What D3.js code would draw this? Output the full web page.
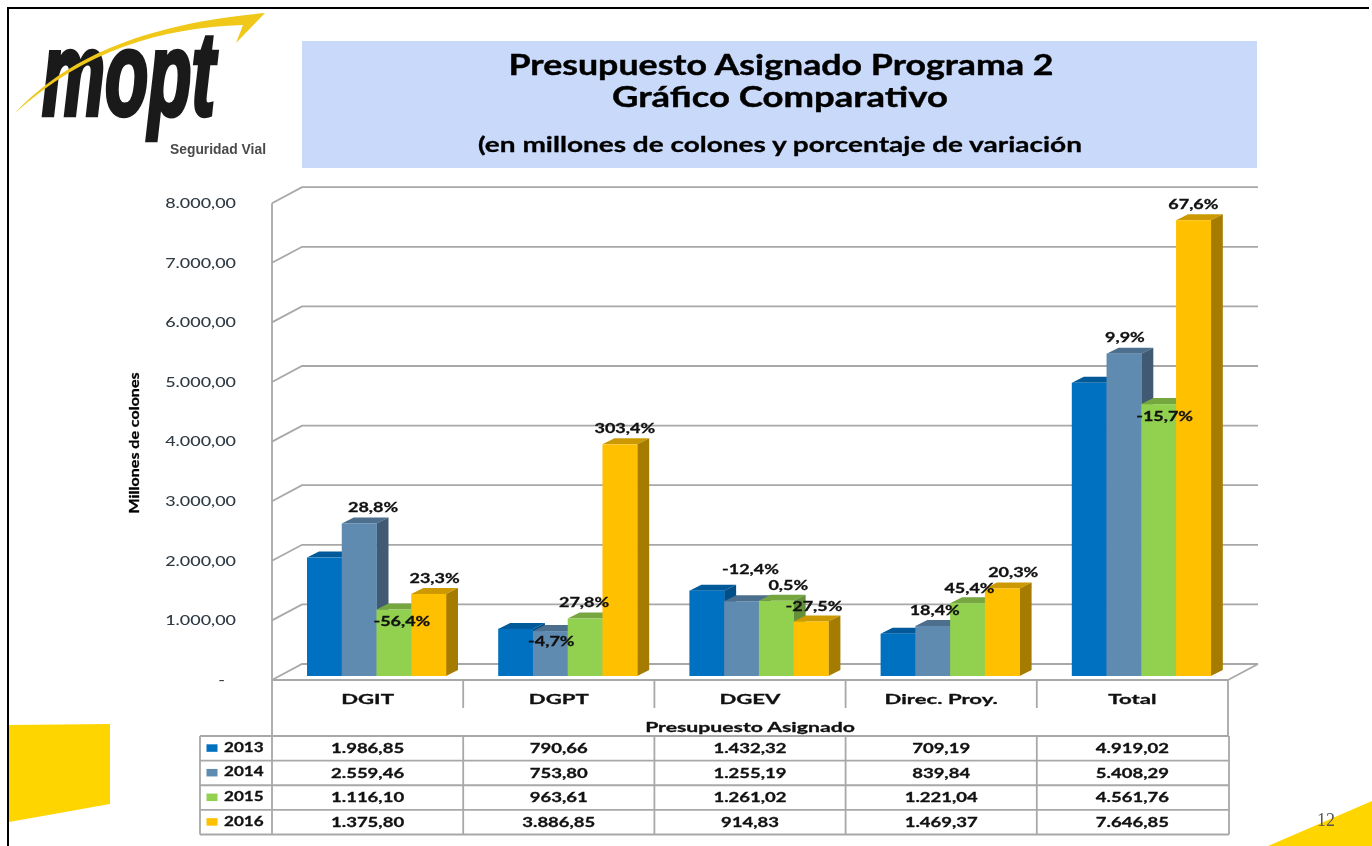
<!DOCTYPE html>
<html>
<head>
<meta charset="utf-8">
<script src="https://cdn.jsdelivr.net/npm/d3@7/dist/d3.min.js"></script>
<style>
html,body{margin:0;padding:0;background:#fff;overflow:hidden}
svg{display:block;filter:blur(0.35px)}
text{font-family:Lato,"Open Sans",sans-serif}
</style>
</head>
<body>
<svg id="chart" width="1372" height="846"></svg>
<script>
const categories = ["DGIT","DGPT","DGEV","Direc. Proy.","Total"];
const years = ["2013","2014","2015","2016"];
const values2013 = [1986.85,790.66,1432.32,709.19,4919.02];
const values2014 = [2559.46,753.80,1255.19,839.84,5408.29];
const values2015 = [1116.10,963.61,1261.02,1221.04,4561.76];
const values2016 = [1375.80,3886.85,914.83,1469.37,7646.85];
const pct2014 = ["28,8%","-4,7%","-12,4%","18,4%","9,9%"];
const pct2015 = ["-56,4%","27,8%","0,5%","45,4%","-15,7%"];
const pct2016 = ["23,3%","303,4%","-27,5%","20,3%","67,6%"];
const yTicks = [0,1000,2000,3000,4000,5000,6000,7000,8000];
const titleLines = ["Presupuesto Asignado Programa 2","Gráfico Comparativo"];
const subtitle = "(en millones de colones y porcentaje de variación";
const tableTitle = "Presupuesto Asignado";
const yTitle = "Millones de colones";

const seriesValues = [values2013,values2014,values2015,values2016];
const seriesPct = [null,pct2014,pct2015,pct2016];
const fillFront = ["#0070C0","#5F8BB0","#92D050","#FFC000"];
const fillTop   = ["#005A9A","#4C6F8D","#75A640","#CC9A00"];
const fillSide  = ["#004F88","#3F5A72","#64903A","#A67C00"];

const svg = d3.select("#chart");
const loc = d3.formatLocale({decimal:",",thousands:".",grouping:[3],currency:["",""]});
const fmt = loc.format(",.2f");
const GRID = "#a8a8a8";

function stretch(sel,k){
  sel.each(function(){
    const n=this.getComputedTextLength();
    this.setAttribute("textLength",n*k);
    this.setAttribute("lengthAdjust","spacingAndGlyphs");
  });
  return sel;
}
function fit(sel,w){
  sel.attr("textLength",w).attr("lengthAdjust","spacingAndGlyphs");
  return sel;
}

/* ---------- page decoration ---------- */
const YEL="#FFD500";
svg.append("path").attr("d","M9,725L110,724L110,804L9,822Z").attr("fill",YEL);
svg.append("path").attr("d","M1268,846L1372,801L1372,846Z").attr("fill",YEL);
svg.append("line").attr("x1",8).attr("x2",8).attr("y1",7).attr("y2",846).attr("stroke","#000").attr("stroke-width",2);
svg.append("line").attr("x1",7).attr("x2",1369).attr("y1",8).attr("y2",8).attr("stroke","#000").attr("stroke-width",2);

/* ---------- logo ---------- */
fit(svg.append("text").attr("x",42).attr("y",115)
  .style("font-family","'Liberation Sans'").style("font-weight",700).style("font-style","italic")
  .style("font-size","118px").attr("fill","#1a1a1a").attr("stroke","#1a1a1a").attr("stroke-width",4.5)
  .text("mopt"),173);
svg.append("path")
  .attr("d","M15,113C60,65 130,25 265,13L236,43L243,25C160,28 85,50 15,113Z")
  .attr("fill","#EFC81A");
fit(svg.append("text").attr("x",170).attr("y",154)
  .style("font-family","'Liberation Sans'").style("font-weight",700).style("font-size","15px").attr("fill","#4a4a4a").text("Seguridad Vial"),96);

/* ---------- title ---------- */
svg.append("rect").attr("x",302).attr("y",41).attr("width",955).attr("height",127).attr("fill","#C9D9F9");
const titleSpec=[[titleLines[0],781,75,545,28],[titleLines[1],780,107,336,28]];
titleSpec.forEach(t=>{
  fit(svg.append("text").attr("x",t[1]).attr("y",t[2]).attr("text-anchor","middle")
    .style("font-weight",700).style("font-size",t[4]+"px").attr("fill","#000").attr("stroke","#000").attr("stroke-width",0.4).text(t[0]),t[3]);
});
fit(svg.append("text").attr("x",780).attr("y",152).attr("text-anchor","middle")
  .style("font-weight",700).style("font-size","21px").attr("fill","#000").attr("stroke","#000").attr("stroke-width",0.3).text(subtitle),604);

/* ---------- scales ---------- */
const baseY=676, unitsTop=baseY-8000*0.0596;
const y = d3.scaleLinear().domain([0,8000]).range([baseY,unitsTop]);
const x0 = d3.scaleBand().domain(categories).range([272,1228]);
const x1 = d3.scaleBand().domain(years).range([35,35+139]);
const wallFront=4, backDx=30, backDy=-12, topDx=12, topDy=-6;

/* ---------- walls & grid ---------- */
const grid=svg.append("g").attr("fill","none").attr("stroke",GRID).attr("stroke-width",1.8);
yTicks.forEach(t=>{
  const fy=y(t)+wallFront, by=y(t)+backDy;
  grid.append("path").attr("d",`M272,${fy}L${272+backDx},${by}L1258,${by}`);
});
grid.append("line").attr("x1",272).attr("x2",272).attr("y1",y(8000)+wallFront).attr("y2",736);
grid.append("line").attr("x1",1258).attr("x2",1228).attr("y1",y(0)+backDy).attr("y2",y(0)+wallFront);

/* ---------- y axis ---------- */
const axisY=d3.axisLeft(d3.scaleLinear().domain([0,8000]).range([y(0)+wallFront,y(8000)+wallFront]))
  .tickValues(yTicks).tickSize(0).tickPadding(0).tickFormat(d=>d===0?"-":fmt(d));
const gAxis=svg.append("g").attr("transform","translate(236,0)").call(axisY);
gAxis.select(".domain").remove();
gAxis.selectAll("text").style("font-family","Lato").style("font-size","13.5px").style("font-weight",500)
  .attr("fill","#2f3a44");
stretch(gAxis.selectAll("text"),1.33);
gAxis.selectAll(".tick").filter(d=>d===0).select("text").attr("x",-11);

const yT=svg.append("text").attr("transform","translate(139,443) rotate(-90)")
  .attr("text-anchor","middle").style("font-weight",700).style("font-size","14px").attr("fill","#000").attr("stroke","#000").attr("stroke-width",0.3).text(yTitle);
fit(yT,141);

/* ---------- bars ---------- */
const barW=x1.bandwidth();
categories.forEach((c,ci)=>{
  const g=svg.append("g").attr("transform",`translate(${x0(c)},0)`);
  years.forEach((yr,si)=>{
    const v=seriesValues[si][ci], l=x1(yr), r=l+barW, t=y(v), b=y(0);
    g.append("path").attr("d",`M${l},${t}L${l+topDx},${t+topDy}L${r+topDx},${t+topDy}L${r},${t}Z`).attr("fill",fillTop[si]);
    g.append("path").attr("d",`M${r},${t}L${r+topDx},${t+topDy}L${r+topDx},${b+topDy}L${r},${b}Z`).attr("fill",fillSide[si]);
    g.append("rect").attr("x",l).attr("y",t).attr("width",barW+0.3).attr("height",b-t).attr("fill",fillFront[si]);
  });
});

/* ---------- percentage labels ---------- */
// manual nudges from each bar's centre / top, as placed in the source chart: "series-category": [dx, dy]
const labelNudge={
  "1-0":[14,-16],"1-1":[1,10],"1-2":[9,-32],"1-3":[2,-16],"1-4":[1,-17],
  "2-0":[8,12],"2-1":[-1,-16],"2-2":[12,-16],"2-3":[2,-15],"2-4":[6,12],
  "3-0":[6,-16],"3-1":[5,-16],"3-2":[3,-15],"3-3":[11,-16],"3-4":[0,-16]
};
const labels=svg.append("g");
[1,2,3].forEach(si=>categories.forEach((c,ci)=>{
  const v=seriesValues[si][ci], n=labelNudge[si+"-"+ci];
  const cx=x0(c)+x1(years[si])+barW/2+n[0], cy=y(v)+n[1];
  const t=labels.append("text").attr("x",cx).attr("y",cy).attr("dy","0.36em").attr("text-anchor","middle")
    .style("font-weight",700).style("font-size","13.5px").attr("fill","#111").attr("stroke","#111").attr("stroke-width",0.3).text(seriesPct[si][ci]);
  stretch(t,1.33);
}));

/* ---------- data table ---------- */
const rowY=d3.scaleBand().domain(years).range([736,834.5]);
const tbl=svg.append("g").attr("fill","none").attr("stroke",GRID).attr("stroke-width",1.8);
tbl.append("line").attr("x1",272).attr("x2",1228).attr("y1",680).attr("y2",680);
x0.domain().forEach((c,i)=>{ if(i>0) tbl.append("line").attr("x1",x0(c)).attr("x2",x0(c)).attr("y1",680).attr("y2",708); });
tbl.append("line").attr("x1",1228).attr("x2",1228).attr("y1",680).attr("y2",736);
years.concat(["end"]).forEach((yr,i)=>{
  const yy=i<4?rowY(yr):834.5;
  tbl.append("line").attr("x1",200).attr("x2",1229).attr("y1",yy).attr("y2",yy);
});
[200].concat(categories.map(c=>x0(c))).concat([1229]).forEach(xx=>{
  tbl.append("line").attr("x1",xx).attr("x2",xx).attr("y1",736).attr("y2",834.5);
});

const tText=svg.append("g").style("font-weight",700).attr("fill","#111").attr("stroke","#111").attr("stroke-width",0.3);
categories.forEach(c=>{
  stretch(tText.append("text").attr("x",x0(c)+x0.bandwidth()/2).attr("y",699).attr("dy","0.36em")
    .attr("text-anchor","middle").style("font-size","14px").text(c),1.58);
});
stretch(tText.append("text").attr("x",750).attr("y",727).attr("dy","0.36em").attr("text-anchor","middle")
  .style("font-size","13.5px").text(tableTitle),1.57);

years.forEach((yr,si)=>{
  const cy=rowY(yr)+rowY.bandwidth()/2;
  svg.append("rect").attr("x",206.5).attr("y",cy-4).attr("width",11).attr("height",7.5).attr("fill",fillFront[si]);
  stretch(tText.append("text").attr("x",224).attr("y",cy-1.7).attr("dy","0.36em").style("font-size","14px").text(yr),1.22);
  categories.forEach((c,ci)=>{
    stretch(tText.append("text").attr("x",x0(c)+x0.bandwidth()/2).attr("y",cy-0.3).attr("dy","0.36em")
      .attr("text-anchor","middle").style("font-size","14px").text(fmt(seriesValues[si][ci])),1.32);
  });
});

/* ---------- page number ---------- */
svg.append("text").attr("x",1326).attr("y",826).attr("text-anchor","middle")
  .style("font-family","'Liberation Serif'").style("font-size","18px").attr("fill","#555").text("12");
</script>
</body>
</html>
